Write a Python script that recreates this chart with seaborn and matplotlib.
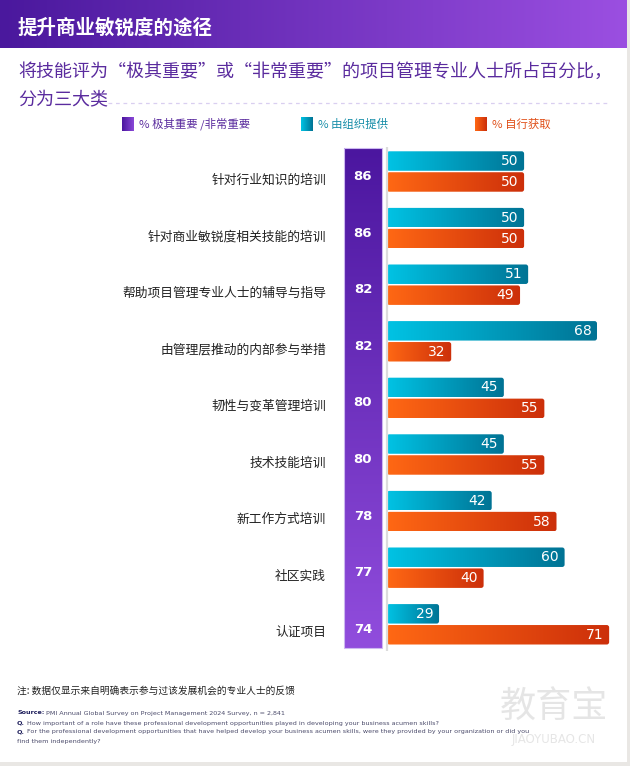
import numpy as np
import pandas as pd
import matplotlib
matplotlib.use("Agg")
import matplotlib.pyplot as plt
from matplotlib.colors import LinearSegmentedColormap
from matplotlib.patches import Rectangle, FancyBboxPatch
from matplotlib.lines import Line2D
import seaborn as sns

# ---------------- data ----------------
categories = ["针对行业知识的培训", "针对商业敏锐度相关技能的培训", "帮助项目管理专业人士的辅导与指导",
              "由管理层推动的内部参与举措", "韧性与变革管理培训", "技术技能培训",
              "新工作方式培训", "社区实践", "认证项目"]
important = [86, 86, 82, 82, 80, 80, 78, 77, 74]
by_org = [50, 50, 51, 68, 45, 45, 42, 60, 29]
self_found = [50, 50, 49, 32, 55, 55, 58, 40, 71]
legend_labels = ["% 极其重要 /非常重要", "% 由组织提供", "% 自行获取"]

title = "提升商业敏锐度的途径"
subtitle = ["将技能评为“极其重要”或“非常重要”的项目管理专业人士所占百分比，", "分为三大类"]
note = "注: 数据仅显示来自明确表示参与过该发展机会的专业人士的反馈"
source_lines = [
    ("Source:", " PMI Annual Global Survey on Project Management 2024 Survey, n = 2,841"),
    ("Q.", " How important of a role have these professional development opportunities played in developing your business acumen skills?"),
    ("Q.", " For the professional development opportunities that have helped develop your business acumen skills, were they provided by your organization or did you"),
    ("", "find them independently?"),
]

# ---------------- style ----------------
sns.set_theme(style="white")
plt.rcParams["font.family"] = ["Noto Sans CJK SC", "DejaVu Sans"]

W, H = 630, 766
fig = plt.figure(figsize=(W / 100, H / 100), dpi=100)
fig.patch.set_facecolor("white")

def fx(x):
    return x / W

def fy(y):
    return 1 - y / H

CYAN_L, CYAN_R = "#00C3E4", "#007394"
ORG_L, ORG_R = "#FF6814", "#CC2F0A"
PUR_T, PUR_B = "#4B169F", "#914DDD"

# header band with gradient
hax = fig.add_axes([0, fy(48), fx(627), 48 / H])
hax.imshow(np.linspace(0, 1, 256).reshape(1, -1), aspect="auto",
           cmap=LinearSegmentedColormap.from_list("hdr", ["#4A189D", "#9B4FE1"]),
           extent=[0, 1, 0, 1])
hax.set_axis_off()
fig.text(fx(18), fy(28), title, color="white", fontsize=14, fontweight="bold",
         ha="left", va="center")

# card border (right / bottom)
fig.patches.append(Rectangle((fx(627), 0), fx(3), 1, transform=fig.transFigure,
                             facecolor="#E9E7E4", edgecolor="none"))
fig.patches.append(Rectangle((0, 0), 1, 4 / H, transform=fig.transFigure,
                             facecolor="#E9E7E4", edgecolor="none"))

# subtitle
SUB_C = "#5A2B9E"
fig.text(fx(18), fy(72), subtitle[0], color=SUB_C, fontsize=13, ha="left", va="center")
fig.text(fx(18), fy(100), subtitle[1], color=SUB_C, fontsize=13, ha="left", va="center")
fig.lines.append(Line2D([fx(108), fx(610)], [fy(103), fy(103)], transform=fig.transFigure,
                        color="#D9CFF0", lw=0.9, ls=(0, (3, 3))))

# legend
leg_x = [122, 301, 475]
leg_txt_c = [SUB_C, "#168DA8", "#E04E17"]
leg_sq = [(PUR_T, "#8A48D8"), (CYAN_L, CYAN_R), (ORG_L, ORG_R)]
for lx, lab, tc, (c1, c2) in zip(leg_x, legend_labels, leg_txt_c, leg_sq):
    sax = fig.add_axes([fx(lx), fy(131), 12 / W, 14 / H])
    sax.imshow(np.linspace(0, 1, 64).reshape(1, -1), aspect="auto",
               cmap=LinearSegmentedColormap.from_list("sq", [c1, c2]), extent=[0, 1, 0, 1])
    sax.set_axis_off()
    fig.text(fx(lx + 17), fy(124), lab, color=tc, fontsize=8.2, ha="left", va="center")

# ---------------- main bar axes ----------------
PX_PER_UNIT = 4.05
X0 = 321.6
XMAX = 74
ROW = 56.6
FIRST = 171.5
top_px = FIRST - 0.5 * ROW
bot_px = FIRST + 8.5 * ROW
ax = fig.add_axes([fx(X0), fy(bot_px), XMAX * PX_PER_UNIT / W, (bot_px - top_px) / H])

df = pd.DataFrame({
    "category": categories * 2,
    "source": [legend_labels[1]] * len(categories) + [legend_labels[2]] * len(categories),
    "value": by_org + self_found,
})
sns.barplot(data=df, y="category", x="value", hue="source", orient="h",
            palette=[CYAN_R, ORG_R], width=0.74, gap=0.07, legend=False, ax=ax)

def ux(px):
    return (px - X0) / PX_PER_UNIT

bar_start = ux(387)
grad = np.linspace(0, 1, 256).reshape(1, -1)
cmaps = [LinearSegmentedColormap.from_list("c", [CYAN_L, CYAN_R]),
         LinearSegmentedColormap.from_list("o", [ORG_L, ORG_R])]
aspect = PX_PER_UNIT / ROW
for cont, cm in zip(ax.containers, cmaps):
    for bar in cont:
        x1 = bar.get_x() + bar.get_width()
        y0 = bar.get_y()
        h = bar.get_height()
        bar.set_facecolor("none")
        bar.set_edgecolor("none")
        rounded = FancyBboxPatch((bar_start, y0), x1 - bar_start, h,
                                 boxstyle="round,pad=0,rounding_size=0.6",
                                 mutation_aspect=aspect,
                                 facecolor="none", edgecolor="none")
        ax.add_patch(rounded)
        im = ax.imshow(grad, aspect="auto", cmap=cm,
                       extent=[bar_start, x1, y0 + h, y0], zorder=2)
        im.set_clip_path(rounded)
        ax.text(x1 - 1.4, y0 + h / 2, f"{bar.get_width():.0f}", color="white",
                fontsize=10, fontweight="medium", ha="right", va="center", zorder=5,
                family=["DejaVu Sans"])

# purple column
pcm = LinearSegmentedColormap.from_list("p", [PUR_T, PUR_B])
ax.imshow(np.linspace(0, 1, 256).reshape(-1, 1), aspect="auto", cmap=pcm,
          extent=[ux(344), ux(382), (648 - FIRST) / ROW, (148 - FIRST) / ROW], zorder=3)
ax.add_patch(Rectangle((ux(344), (148 - FIRST) / ROW), ux(382) - ux(344), 500 / ROW,
                       facecolor="none", edgecolor="#CDB8F0", lw=0.8, zorder=4))
for i, v in enumerate(important):
    ax.text(ux(363), i + 0.09, f"{v}", color="white", fontsize=9.5, fontweight="bold",
            ha="center", va="center", zorder=5, family=["DejaVu Sans"])

# thin grey separator line
ax.plot([ux(386.5), ux(386.5)], [(147 - FIRST) / ROW, (651 - FIRST) / ROW],
        color="#DCDCDC", lw=1.6, zorder=4, solid_capstyle="butt")

# category labels
for i, c in enumerate(categories):
    ax.text(ux(326), i + 0.15, c, color="#222222", fontsize=9.2, ha="right", va="center")

ax.set_xlim(0, XMAX)
ax.set_ylim(8.5, -0.5)
ax.set_axis_off()

# ---------------- footnotes ----------------
fig.text(fx(17), fy(691), note, color="#222222", fontsize=7, ha="left", va="center")
renderer = fig.canvas.get_renderer()
ys = [713, 723, 732, 742]
for (b, rest), yy in zip(source_lines, ys):
    wpx = 0
    if b:
        t = fig.text(fx(17), fy(yy), b, color="#1F1F5C", fontsize=4.6, fontweight="bold",
                     ha="left", va="center", family=["DejaVu Sans"])
        wpx = t.get_window_extent(renderer=renderer).width
    fig.text(fx(17 + wpx), fy(yy), rest.lstrip() if b == "" else rest, color="#4A4A6A",
             fontsize=4.6, ha="left", va="center", family=["DejaVu Sans"])

# watermark
fig.text(fx(554), fy(708), "教育宝", color="#E3E3E3", fontsize=26, ha="center",
         va="center", alpha=0.9)
fig.text(fx(554), fy(739), "JIAOYUBAO.CN", color="#E3E3E3", fontsize=8.5, ha="center",
         va="center", alpha=0.9, family=["DejaVu Sans"])

fig.savefig("out.png", dpi=100, facecolor="white")
